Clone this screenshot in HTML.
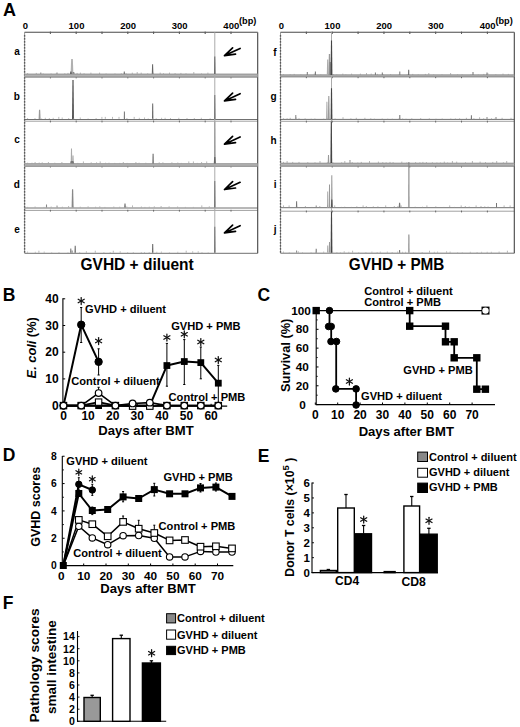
<!DOCTYPE html>
<html><head><meta charset="utf-8"><style>
html,body{margin:0;padding:0;background:#fff;}
svg{display:block;font-family:"Liberation Sans", sans-serif;}
</style></head><body>
<svg width="520" height="727" viewBox="0 0 520 727">
<rect width="520" height="727" fill="#fff"/>
<text x="3.00" y="15.90" font-size="18" font-weight="bold" text-anchor="start" fill="#000" >A</text>
<text x="25.50" y="28.90" font-size="9.5" font-weight="bold" text-anchor="middle" fill="#000" >0</text>
<text x="76.50" y="28.90" font-size="9.5" font-weight="bold" text-anchor="middle" fill="#000" >100</text>
<text x="128.10" y="28.90" font-size="9.5" font-weight="bold" text-anchor="middle" fill="#000" >200</text>
<text x="179.70" y="28.90" font-size="9.5" font-weight="bold" text-anchor="middle" fill="#000" >300</text>
<text x="231.30" y="28.90" font-size="9.5" font-weight="bold" text-anchor="middle" fill="#000" >400</text>
<text x="239.00" y="24.00" font-size="9.2" font-weight="bold" text-anchor="start" fill="#000" >(bp)</text>
<text x="281.40" y="28.90" font-size="9.5" font-weight="bold" text-anchor="middle" fill="#000" >0</text>
<text x="332.52" y="28.90" font-size="9.5" font-weight="bold" text-anchor="middle" fill="#000" >100</text>
<text x="384.24" y="28.90" font-size="9.5" font-weight="bold" text-anchor="middle" fill="#000" >200</text>
<text x="435.96" y="28.90" font-size="9.5" font-weight="bold" text-anchor="middle" fill="#000" >300</text>
<text x="487.68" y="28.90" font-size="9.5" font-weight="bold" text-anchor="middle" fill="#000" >400</text>
<text x="495.38" y="24.00" font-size="9.2" font-weight="bold" text-anchor="start" fill="#000" >(bp)</text>
<line x1="24.60" y1="32.30" x2="257.70" y2="32.30" stroke="#a0a0a0" stroke-width="1.0" />
<line x1="24.60" y1="75.50" x2="257.70" y2="75.50" stroke="#707070" stroke-width="1.0" />
<line x1="50.40" y1="31.70" x2="50.40" y2="33.50" stroke="#666" stroke-width="1.0" />
<line x1="76.20" y1="31.70" x2="76.20" y2="33.50" stroke="#666" stroke-width="1.0" />
<line x1="102.00" y1="31.70" x2="102.00" y2="33.50" stroke="#666" stroke-width="1.0" />
<line x1="127.80" y1="31.70" x2="127.80" y2="33.50" stroke="#666" stroke-width="1.0" />
<line x1="153.60" y1="31.70" x2="153.60" y2="33.50" stroke="#666" stroke-width="1.0" />
<line x1="179.40" y1="31.70" x2="179.40" y2="33.50" stroke="#666" stroke-width="1.0" />
<line x1="205.20" y1="31.70" x2="205.20" y2="33.50" stroke="#666" stroke-width="1.0" />
<line x1="231.00" y1="31.70" x2="231.00" y2="33.50" stroke="#666" stroke-width="1.0" />
<line x1="24.60" y1="77.20" x2="257.70" y2="77.20" stroke="#a0a0a0" stroke-width="1.0" />
<line x1="24.60" y1="119.50" x2="257.70" y2="119.50" stroke="#707070" stroke-width="1.0" />
<line x1="50.40" y1="76.60" x2="50.40" y2="78.40" stroke="#666" stroke-width="1.0" />
<line x1="76.20" y1="76.60" x2="76.20" y2="78.40" stroke="#666" stroke-width="1.0" />
<line x1="102.00" y1="76.60" x2="102.00" y2="78.40" stroke="#666" stroke-width="1.0" />
<line x1="127.80" y1="76.60" x2="127.80" y2="78.40" stroke="#666" stroke-width="1.0" />
<line x1="153.60" y1="76.60" x2="153.60" y2="78.40" stroke="#666" stroke-width="1.0" />
<line x1="179.40" y1="76.60" x2="179.40" y2="78.40" stroke="#666" stroke-width="1.0" />
<line x1="205.20" y1="76.60" x2="205.20" y2="78.40" stroke="#666" stroke-width="1.0" />
<line x1="231.00" y1="76.60" x2="231.00" y2="78.40" stroke="#666" stroke-width="1.0" />
<line x1="24.60" y1="121.20" x2="257.70" y2="121.20" stroke="#a0a0a0" stroke-width="1.0" />
<line x1="24.60" y1="164.50" x2="257.70" y2="164.50" stroke="#707070" stroke-width="1.0" />
<line x1="50.40" y1="120.60" x2="50.40" y2="122.40" stroke="#666" stroke-width="1.0" />
<line x1="76.20" y1="120.60" x2="76.20" y2="122.40" stroke="#666" stroke-width="1.0" />
<line x1="102.00" y1="120.60" x2="102.00" y2="122.40" stroke="#666" stroke-width="1.0" />
<line x1="127.80" y1="120.60" x2="127.80" y2="122.40" stroke="#666" stroke-width="1.0" />
<line x1="153.60" y1="120.60" x2="153.60" y2="122.40" stroke="#666" stroke-width="1.0" />
<line x1="179.40" y1="120.60" x2="179.40" y2="122.40" stroke="#666" stroke-width="1.0" />
<line x1="205.20" y1="120.60" x2="205.20" y2="122.40" stroke="#666" stroke-width="1.0" />
<line x1="231.00" y1="120.60" x2="231.00" y2="122.40" stroke="#666" stroke-width="1.0" />
<line x1="24.60" y1="166.30" x2="257.70" y2="166.30" stroke="#a0a0a0" stroke-width="1.0" />
<line x1="24.60" y1="208.00" x2="257.70" y2="208.00" stroke="#707070" stroke-width="1.0" />
<line x1="50.40" y1="165.70" x2="50.40" y2="167.50" stroke="#666" stroke-width="1.0" />
<line x1="76.20" y1="165.70" x2="76.20" y2="167.50" stroke="#666" stroke-width="1.0" />
<line x1="102.00" y1="165.70" x2="102.00" y2="167.50" stroke="#666" stroke-width="1.0" />
<line x1="127.80" y1="165.70" x2="127.80" y2="167.50" stroke="#666" stroke-width="1.0" />
<line x1="153.60" y1="165.70" x2="153.60" y2="167.50" stroke="#666" stroke-width="1.0" />
<line x1="179.40" y1="165.70" x2="179.40" y2="167.50" stroke="#666" stroke-width="1.0" />
<line x1="205.20" y1="165.70" x2="205.20" y2="167.50" stroke="#666" stroke-width="1.0" />
<line x1="231.00" y1="165.70" x2="231.00" y2="167.50" stroke="#666" stroke-width="1.0" />
<line x1="24.60" y1="210.40" x2="257.70" y2="210.40" stroke="#a0a0a0" stroke-width="1.0" />
<line x1="24.60" y1="253.30" x2="257.70" y2="253.30" stroke="#707070" stroke-width="1.0" />
<line x1="50.40" y1="209.80" x2="50.40" y2="211.60" stroke="#666" stroke-width="1.0" />
<line x1="76.20" y1="209.80" x2="76.20" y2="211.60" stroke="#666" stroke-width="1.0" />
<line x1="102.00" y1="209.80" x2="102.00" y2="211.60" stroke="#666" stroke-width="1.0" />
<line x1="127.80" y1="209.80" x2="127.80" y2="211.60" stroke="#666" stroke-width="1.0" />
<line x1="153.60" y1="209.80" x2="153.60" y2="211.60" stroke="#666" stroke-width="1.0" />
<line x1="179.40" y1="209.80" x2="179.40" y2="211.60" stroke="#666" stroke-width="1.0" />
<line x1="205.20" y1="209.80" x2="205.20" y2="211.60" stroke="#666" stroke-width="1.0" />
<line x1="231.00" y1="209.80" x2="231.00" y2="211.60" stroke="#666" stroke-width="1.0" />
<line x1="257.70" y1="32.30" x2="257.70" y2="253.30" stroke="#444" stroke-width="1.1" />
<line x1="24.60" y1="32.30" x2="24.60" y2="253.30" stroke="#999" stroke-width="1" />
<line x1="24.60" y1="35.30" x2="24.60" y2="253.30" stroke="#444" stroke-width="1.4" stroke-dasharray="1.3 1.7"/>
<line x1="280.50" y1="32.30" x2="514.30" y2="32.30" stroke="#a0a0a0" stroke-width="1.0" />
<line x1="280.50" y1="75.40" x2="514.30" y2="75.40" stroke="#707070" stroke-width="1.0" />
<line x1="306.36" y1="31.70" x2="306.36" y2="33.50" stroke="#666" stroke-width="1.0" />
<line x1="332.22" y1="31.70" x2="332.22" y2="33.50" stroke="#666" stroke-width="1.0" />
<line x1="358.08" y1="31.70" x2="358.08" y2="33.50" stroke="#666" stroke-width="1.0" />
<line x1="383.94" y1="31.70" x2="383.94" y2="33.50" stroke="#666" stroke-width="1.0" />
<line x1="409.80" y1="31.70" x2="409.80" y2="33.50" stroke="#666" stroke-width="1.0" />
<line x1="435.66" y1="31.70" x2="435.66" y2="33.50" stroke="#666" stroke-width="1.0" />
<line x1="461.52" y1="31.70" x2="461.52" y2="33.50" stroke="#666" stroke-width="1.0" />
<line x1="487.38" y1="31.70" x2="487.38" y2="33.50" stroke="#666" stroke-width="1.0" />
<line x1="280.50" y1="77.00" x2="514.30" y2="77.00" stroke="#a0a0a0" stroke-width="1.0" />
<line x1="280.50" y1="119.40" x2="514.30" y2="119.40" stroke="#707070" stroke-width="1.0" />
<line x1="306.36" y1="76.40" x2="306.36" y2="78.20" stroke="#666" stroke-width="1.0" />
<line x1="332.22" y1="76.40" x2="332.22" y2="78.20" stroke="#666" stroke-width="1.0" />
<line x1="358.08" y1="76.40" x2="358.08" y2="78.20" stroke="#666" stroke-width="1.0" />
<line x1="383.94" y1="76.40" x2="383.94" y2="78.20" stroke="#666" stroke-width="1.0" />
<line x1="409.80" y1="76.40" x2="409.80" y2="78.20" stroke="#666" stroke-width="1.0" />
<line x1="435.66" y1="76.40" x2="435.66" y2="78.20" stroke="#666" stroke-width="1.0" />
<line x1="461.52" y1="76.40" x2="461.52" y2="78.20" stroke="#666" stroke-width="1.0" />
<line x1="487.38" y1="76.40" x2="487.38" y2="78.20" stroke="#666" stroke-width="1.0" />
<line x1="280.50" y1="121.30" x2="514.30" y2="121.30" stroke="#a0a0a0" stroke-width="1.0" />
<line x1="280.50" y1="164.30" x2="514.30" y2="164.30" stroke="#707070" stroke-width="1.0" />
<line x1="306.36" y1="120.70" x2="306.36" y2="122.50" stroke="#666" stroke-width="1.0" />
<line x1="332.22" y1="120.70" x2="332.22" y2="122.50" stroke="#666" stroke-width="1.0" />
<line x1="358.08" y1="120.70" x2="358.08" y2="122.50" stroke="#666" stroke-width="1.0" />
<line x1="383.94" y1="120.70" x2="383.94" y2="122.50" stroke="#666" stroke-width="1.0" />
<line x1="409.80" y1="120.70" x2="409.80" y2="122.50" stroke="#666" stroke-width="1.0" />
<line x1="435.66" y1="120.70" x2="435.66" y2="122.50" stroke="#666" stroke-width="1.0" />
<line x1="461.52" y1="120.70" x2="461.52" y2="122.50" stroke="#666" stroke-width="1.0" />
<line x1="487.38" y1="120.70" x2="487.38" y2="122.50" stroke="#666" stroke-width="1.0" />
<line x1="280.50" y1="166.30" x2="514.30" y2="166.30" stroke="#a0a0a0" stroke-width="1.0" />
<line x1="280.50" y1="207.70" x2="514.30" y2="207.70" stroke="#707070" stroke-width="1.0" />
<line x1="306.36" y1="165.70" x2="306.36" y2="167.50" stroke="#666" stroke-width="1.0" />
<line x1="332.22" y1="165.70" x2="332.22" y2="167.50" stroke="#666" stroke-width="1.0" />
<line x1="358.08" y1="165.70" x2="358.08" y2="167.50" stroke="#666" stroke-width="1.0" />
<line x1="383.94" y1="165.70" x2="383.94" y2="167.50" stroke="#666" stroke-width="1.0" />
<line x1="409.80" y1="165.70" x2="409.80" y2="167.50" stroke="#666" stroke-width="1.0" />
<line x1="435.66" y1="165.70" x2="435.66" y2="167.50" stroke="#666" stroke-width="1.0" />
<line x1="461.52" y1="165.70" x2="461.52" y2="167.50" stroke="#666" stroke-width="1.0" />
<line x1="487.38" y1="165.70" x2="487.38" y2="167.50" stroke="#666" stroke-width="1.0" />
<line x1="280.50" y1="211.20" x2="514.30" y2="211.20" stroke="#a0a0a0" stroke-width="1.0" />
<line x1="280.50" y1="253.20" x2="514.30" y2="253.20" stroke="#707070" stroke-width="1.0" />
<line x1="306.36" y1="210.60" x2="306.36" y2="212.40" stroke="#666" stroke-width="1.0" />
<line x1="332.22" y1="210.60" x2="332.22" y2="212.40" stroke="#666" stroke-width="1.0" />
<line x1="358.08" y1="210.60" x2="358.08" y2="212.40" stroke="#666" stroke-width="1.0" />
<line x1="383.94" y1="210.60" x2="383.94" y2="212.40" stroke="#666" stroke-width="1.0" />
<line x1="409.80" y1="210.60" x2="409.80" y2="212.40" stroke="#666" stroke-width="1.0" />
<line x1="435.66" y1="210.60" x2="435.66" y2="212.40" stroke="#666" stroke-width="1.0" />
<line x1="461.52" y1="210.60" x2="461.52" y2="212.40" stroke="#666" stroke-width="1.0" />
<line x1="487.38" y1="210.60" x2="487.38" y2="212.40" stroke="#666" stroke-width="1.0" />
<line x1="514.30" y1="32.30" x2="514.30" y2="253.20" stroke="#444" stroke-width="1.1" />
<line x1="280.50" y1="32.30" x2="280.50" y2="253.20" stroke="#999" stroke-width="1" />
<line x1="280.50" y1="35.30" x2="280.50" y2="253.20" stroke="#444" stroke-width="1.4" stroke-dasharray="1.3 1.7"/>
<line x1="24.60" y1="32.30" x2="257.70" y2="32.30" stroke="#777" stroke-width="1.2" />
<line x1="280.50" y1="32.30" x2="514.30" y2="32.30" stroke="#777" stroke-width="1.2" />
<line x1="50.40" y1="31.80" x2="50.40" y2="34.00" stroke="#555" stroke-width="0.9" />
<line x1="76.20" y1="31.80" x2="76.20" y2="34.00" stroke="#555" stroke-width="0.9" />
<line x1="102.00" y1="31.80" x2="102.00" y2="34.00" stroke="#555" stroke-width="0.9" />
<line x1="127.80" y1="31.80" x2="127.80" y2="34.00" stroke="#555" stroke-width="0.9" />
<line x1="153.60" y1="31.80" x2="153.60" y2="34.00" stroke="#555" stroke-width="0.9" />
<line x1="179.40" y1="31.80" x2="179.40" y2="34.00" stroke="#555" stroke-width="0.9" />
<line x1="205.20" y1="31.80" x2="205.20" y2="34.00" stroke="#555" stroke-width="0.9" />
<line x1="231.00" y1="31.80" x2="231.00" y2="34.00" stroke="#555" stroke-width="0.9" />
<line x1="306.36" y1="31.80" x2="306.36" y2="34.00" stroke="#555" stroke-width="0.9" />
<line x1="332.22" y1="31.80" x2="332.22" y2="34.00" stroke="#555" stroke-width="0.9" />
<line x1="358.08" y1="31.80" x2="358.08" y2="34.00" stroke="#555" stroke-width="0.9" />
<line x1="383.94" y1="31.80" x2="383.94" y2="34.00" stroke="#555" stroke-width="0.9" />
<line x1="409.80" y1="31.80" x2="409.80" y2="34.00" stroke="#555" stroke-width="0.9" />
<line x1="435.66" y1="31.80" x2="435.66" y2="34.00" stroke="#555" stroke-width="0.9" />
<line x1="461.52" y1="31.80" x2="461.52" y2="34.00" stroke="#555" stroke-width="0.9" />
<line x1="487.38" y1="31.80" x2="487.38" y2="34.00" stroke="#555" stroke-width="0.9" />
<rect x="24.60" y="73.80" width="233.10" height="3.40" fill="#b3b3b3" stroke="none" stroke-width="1"/>
<line x1="24.60" y1="74.10" x2="257.70" y2="74.10" stroke="#888" stroke-width="0.7" />
<line x1="24.60" y1="76.90" x2="257.70" y2="76.90" stroke="#888" stroke-width="0.7" />
<rect x="24.60" y="163.40" width="233.10" height="3.10" fill="#b3b3b3" stroke="none" stroke-width="1"/>
<line x1="24.60" y1="163.70" x2="257.70" y2="163.70" stroke="#888" stroke-width="0.7" />
<line x1="24.60" y1="166.20" x2="257.70" y2="166.20" stroke="#888" stroke-width="0.7" />
<rect x="280.50" y="74.60" width="233.80" height="2.20" fill="#b3b3b3" stroke="none" stroke-width="1"/>
<line x1="280.50" y1="74.90" x2="514.30" y2="74.90" stroke="#888" stroke-width="0.7" />
<line x1="280.50" y1="76.50" x2="514.30" y2="76.50" stroke="#888" stroke-width="0.7" />
<rect x="280.50" y="162.90" width="233.80" height="3.40" fill="#b3b3b3" stroke="none" stroke-width="1"/>
<line x1="280.50" y1="163.20" x2="514.30" y2="163.20" stroke="#888" stroke-width="0.7" />
<line x1="280.50" y1="166.00" x2="514.30" y2="166.00" stroke="#888" stroke-width="0.7" />
<line x1="214.80" y1="32.30" x2="214.80" y2="253.30" stroke="#aaa" stroke-width="1" />
<line x1="331.50" y1="32.30" x2="331.50" y2="164.30" stroke="#aaa" stroke-width="1" />
<line x1="331.50" y1="207.70" x2="331.50" y2="253.20" stroke="#aaa" stroke-width="1" />
<polygon points="70.60,74.00 71.16,58.90 72.84,58.90 73.40,74.00" fill="#b0b0b0"/>
<polygon points="69.90,74.00 70.30,71.40 71.50,71.40 71.90,74.00" fill="#666"/>
<polygon points="72.30,74.00 72.78,72.00 74.22,72.00 74.70,74.00" fill="#888"/>
<polygon points="123.60,74.00 123.80,71.50 124.80,71.50 125.00,74.00" fill="#777"/>
<polygon points="151.80,74.00 152.10,64.30 153.10,64.30 153.40,74.00" fill="#666"/>
<polygon points="214.00,74.00 214.30,56.50 215.30,56.50 215.60,74.00" fill="#6a6a6a"/>
<polygon points="40.30,74.00 40.30,72.50 41.30,72.50 41.30,74.00" fill="#888"/>
<polygon points="56.50,74.00 56.50,72.50 57.50,72.50 57.50,74.00" fill="#888"/>
<polygon points="38.60,119.00 39.00,109.80 40.20,109.80 40.60,119.00" fill="#999"/>
<polygon points="72.00,119.00 72.40,80.00 73.60,80.00 74.00,119.00" fill="#555"/>
<polygon points="123.80,119.00 123.90,111.60 124.90,111.60 125.00,119.00" fill="#777"/>
<polygon points="152.00,119.00 152.20,103.50 153.20,103.50 153.40,119.00" fill="#666"/>
<polygon points="214.00,119.00 214.30,95.00 215.30,95.00 215.60,119.00" fill="#777"/>
<polygon points="70.70,163.40 71.00,148.50 72.00,148.50 72.30,163.40" fill="#aaa"/>
<polygon points="72.40,163.40 72.50,155.50 73.50,155.50 73.60,163.40" fill="#999"/>
<polygon points="70.20,163.40 71.00,161.00 73.40,161.00 74.20,163.40" fill="#777"/>
<polygon points="152.40,163.40 152.60,153.80 153.60,153.80 153.80,163.40" fill="#666"/>
<polygon points="214.00,163.40 214.30,121.50 215.30,121.50 215.60,163.40" fill="#999"/>
<polygon points="213.80,163.40 214.20,157.00 215.40,157.00 215.80,163.40" fill="#666"/>
<polygon points="45.90,207.60 46.00,204.50 47.00,204.50 47.10,207.60" fill="#888"/>
<polygon points="56.50,207.60 56.50,205.50 57.50,205.50 57.50,207.60" fill="#999"/>
<polygon points="71.60,207.60 72.00,189.20 73.20,189.20 73.60,207.60" fill="#888"/>
<polygon points="124.10,207.60 124.46,203.50 125.54,203.50 125.90,207.60" fill="#777"/>
<polygon points="214.00,207.60 214.30,181.00 215.30,181.00 215.60,207.60" fill="#777"/>
<polygon points="70.10,252.80 70.30,248.50 71.30,248.50 71.50,252.80" fill="#777"/>
<polygon points="71.70,252.80 71.70,250.50 72.70,250.50 72.70,252.80" fill="#888"/>
<polygon points="74.50,252.80 74.70,245.80 75.70,245.80 75.90,252.80" fill="#666"/>
<polygon points="152.00,252.80 152.20,244.00 153.20,244.00 153.40,252.80" fill="#666"/>
<polygon points="214.00,252.80 214.30,226.80 215.30,226.80 215.60,252.80" fill="#777"/>
<polygon points="326.80,75.00 327.16,59.60 328.24,59.60 328.60,75.00" fill="#aaa"/>
<polygon points="328.40,75.00 328.84,54.10 330.16,54.10 330.60,75.00" fill="#999"/>
<polygon points="329.60,75.00 329.70,62.00 330.70,62.00 330.80,75.00" fill="#777"/>
<polygon points="330.60,75.00 330.96,40.50 332.04,40.50 332.40,75.00" fill="#444"/>
<polygon points="306.80,75.00 306.80,72.00 307.80,72.00 307.80,75.00" fill="#777"/>
<polygon points="314.80,75.00 314.90,71.50 315.90,71.50 316.00,75.00" fill="#777"/>
<polygon points="374.90,75.00 374.90,72.50 375.90,72.50 375.90,75.00" fill="#777"/>
<polygon points="381.80,75.00 381.80,72.50 382.80,72.50 382.80,75.00" fill="#777"/>
<polygon points="399.30,75.00 399.30,71.50 400.30,71.50 400.30,75.00" fill="#777"/>
<polygon points="408.10,75.00 408.20,69.70 409.20,69.70 409.30,75.00" fill="#666"/>
<polygon points="472.50,75.00 472.50,72.00 473.50,72.00 473.50,75.00" fill="#777"/>
<polygon points="486.50,75.00 486.50,72.50 487.50,72.50 487.50,75.00" fill="#777"/>
<polygon points="295.20,119.30 295.30,115.00 296.30,115.00 296.40,119.30" fill="#888"/>
<polygon points="326.10,119.30 326.40,101.70 327.40,101.70 327.70,119.30" fill="#aaa"/>
<polygon points="327.90,119.30 328.26,95.90 329.34,95.90 329.70,119.30" fill="#999"/>
<polygon points="330.60,119.30 330.96,88.30 332.04,88.30 332.40,119.30" fill="#444"/>
<polygon points="399.20,119.30 399.30,114.90 400.30,114.90 400.40,119.30" fill="#777"/>
<polygon points="470.80,119.30 470.90,115.30 471.90,115.30 472.00,119.30" fill="#777"/>
<polygon points="486.50,119.30 486.50,117.00 487.50,117.00 487.50,119.30" fill="#888"/>
<polygon points="495.50,119.30 495.50,117.00 496.50,117.00 496.50,119.30" fill="#888"/>
<polygon points="327.70,163.00 328.00,155.00 329.00,155.00 329.30,163.00" fill="#999"/>
<polygon points="330.40,163.00 330.76,121.50 331.84,121.50 332.20,163.00" fill="#444"/>
<polygon points="349.60,163.00 349.50,160.00 350.50,160.00 350.40,163.00" fill="#888"/>
<polygon points="295.90,207.50 296.10,201.20 297.10,201.20 297.30,207.50" fill="#777"/>
<polygon points="315.70,207.50 315.70,205.50 316.70,205.50 316.70,207.50" fill="#888"/>
<polygon points="327.00,207.50 327.20,191.60 328.20,191.60 328.40,207.50" fill="#aaa"/>
<polygon points="328.80,207.50 329.00,184.40 330.00,184.40 330.20,207.50" fill="#999"/>
<polygon points="331.00,207.50 331.30,175.30 332.30,175.30 332.60,207.50" fill="#999"/>
<polygon points="330.90,207.50 331.26,199.50 332.34,199.50 332.70,207.50" fill="#555"/>
<polygon points="398.70,207.50 399.06,202.70 400.14,202.70 400.50,207.50" fill="#777"/>
<polygon points="408.30,207.50 408.40,162.00 409.40,162.00 409.50,207.50" fill="#808080"/>
<polygon points="496.00,207.50 496.00,203.00 497.00,203.00 497.00,207.50" fill="#777"/>
<polygon points="330.60,252.80 330.96,211.50 332.04,211.50 332.40,252.80" fill="#444"/>
<polygon points="327.00,252.80 327.20,245.60 328.20,245.60 328.40,252.80" fill="#aaa"/>
<polygon points="328.70,252.80 329.00,242.00 330.00,242.00 330.30,252.80" fill="#999"/>
<polygon points="315.60,252.80 315.70,248.80 316.70,248.80 316.80,252.80" fill="#777"/>
<polygon points="296.10,252.80 296.10,250.50 297.10,250.50 297.10,252.80" fill="#888"/>
<polygon points="408.30,252.80 408.40,234.60 409.40,234.60 409.50,252.80" fill="#808080"/>
<polygon points="399.00,252.80 399.10,250.00 400.10,250.00 400.20,252.80" fill="#777"/>
<path d="M27.6,74.0v-0.9 M36.3,74.0v-1.1 M43.2,74.0v-0.5 M51.1,74.0v-0.5 M56.3,74.0v-0.5 M64.8,74.0v-0.7 M68.0,74.0v-1.1 M73.5,74.0v-0.7 M77.1,74.0v-1.1 M80.4,74.0v-1.4 M84.1,74.0v-0.7 M90.9,74.0v-1.4 M99.6,74.0v-1.4 M106.1,74.0v-0.5 M115.0,74.0v-0.5 M121.3,74.0v-0.7 M126.1,74.0v-0.7 M132.3,74.0v-1.4 M137.2,74.0v-2.0 M141.2,74.0v-1.4 M147.7,74.0v-0.7 M152.9,74.0v-1.4 M160.2,74.0v-1.4 M163.5,74.0v-0.7 M169.5,74.0v-1.4 M175.1,74.0v-0.9 M180.9,74.0v-1.1 M186.0,74.0v-0.7 M193.8,74.0v-2.0 M201.5,74.0v-0.5 M207.9,74.0v-1.4" stroke="#999" stroke-width="0.7" fill="none"/>
<path d="M27.6,118.9v-0.9 M35.0,118.9v-0.9 M41.6,118.9v-0.5 M45.3,118.9v-1.1 M49.3,118.9v-0.9 M53.2,118.9v-1.1 M58.8,118.9v-2.0 M62.2,118.9v-1.4 M68.7,118.9v-0.9 M73.7,118.9v-0.9 M80.3,118.9v-1.4 M88.1,118.9v-0.5 M96.1,118.9v-0.9 M101.9,118.9v-2.0 M105.3,118.9v-2.0 M112.5,118.9v-2.0 M119.0,118.9v-2.0 M126.9,118.9v-0.9 M134.2,118.9v-2.0 M139.3,118.9v-1.1 M144.5,118.9v-1.4 M148.2,118.9v-0.5 M152.5,118.9v-0.9 M156.2,118.9v-0.7 M161.6,118.9v-1.1 M165.1,118.9v-1.1 M170.5,118.9v-0.9 M178.8,118.9v-1.1 M187.0,118.9v-0.9 M194.3,118.9v-0.9 M201.3,118.9v-1.1 M210.1,118.9v-0.7" stroke="#999" stroke-width="0.7" fill="none"/>
<path d="M27.6,163.4v-0.7 M32.0,163.4v-0.7 M35.1,163.4v-1.4 M39.2,163.4v-0.9 M42.2,163.4v-1.1 M48.4,163.4v-1.4 M54.8,163.4v-0.7 M61.9,163.4v-1.4 M70.6,163.4v-2.0 M77.7,163.4v-0.5 M83.4,163.4v-2.0 M91.2,163.4v-1.1 M96.6,163.4v-1.1 M100.2,163.4v-2.0 M105.6,163.4v-0.7 M109.0,163.4v-0.7 M114.7,163.4v-0.5 M119.7,163.4v-0.5 M123.3,163.4v-1.4 M127.2,163.4v-0.5 M135.9,163.4v-1.4 M139.1,163.4v-0.7 M145.8,163.4v-0.7 M152.6,163.4v-0.9 M159.2,163.4v-1.1 M162.9,163.4v-1.1 M171.9,163.4v-1.1 M177.8,163.4v-0.9 M181.3,163.4v-0.5 M188.8,163.4v-2.0 M193.4,163.4v-2.0 M197.3,163.4v-0.5 M201.6,163.4v-1.4 M206.7,163.4v-2.0" stroke="#999" stroke-width="0.7" fill="none"/>
<path d="M27.6,207.4v-0.5 M35.1,207.4v-0.9 M44.0,207.4v-0.5 M51.2,207.4v-0.9 M57.3,207.4v-0.7 M62.4,207.4v-0.7 M68.6,207.4v-1.4 M73.6,207.4v-0.7 M80.3,207.4v-0.7 M88.1,207.4v-1.1 M95.6,207.4v-0.7 M99.8,207.4v-1.1 M104.9,207.4v-0.5 M113.8,207.4v-0.9 M119.7,207.4v-0.7 M126.8,207.4v-0.9 M132.5,207.4v-2.0 M141.4,207.4v-0.9 M144.9,207.4v-0.5 M149.3,207.4v-0.7 M154.3,207.4v-1.1 M161.1,207.4v-1.4 M169.1,207.4v-1.1 M177.6,207.4v-0.9 M185.4,207.4v-0.5 M193.4,207.4v-0.5 M201.8,207.4v-2.0 M209.3,207.4v-1.1" stroke="#999" stroke-width="0.7" fill="none"/>
<path d="M27.6,252.7v-1.1 M35.3,252.7v-0.9 M38.9,252.7v-2.0 M44.2,252.7v-1.1 M51.7,252.7v-0.5 M59.0,252.7v-0.7 M68.0,252.7v-0.5 M71.9,252.7v-1.1 M79.7,252.7v-0.7 M86.4,252.7v-1.4 M95.3,252.7v-2.0 M103.9,252.7v-0.7 M110.2,252.7v-0.7 M113.3,252.7v-2.0 M120.2,252.7v-1.4 M127.7,252.7v-0.7 M133.3,252.7v-0.7 M141.3,252.7v-0.7 M144.5,252.7v-0.7 M149.2,252.7v-0.7 M156.8,252.7v-0.9 M161.4,252.7v-1.1 M169.4,252.7v-0.5 M177.8,252.7v-0.9 M186.2,252.7v-2.0 M192.7,252.7v-1.4 M198.2,252.7v-1.4 M202.0,252.7v-0.7 M208.2,252.7v-0.5" stroke="#999" stroke-width="0.7" fill="none"/>
<path d="M283.5,75.0v-0.7 M290.2,75.0v-0.7 M294.2,75.0v-1.1 M300.9,75.0v-0.5 M307.2,75.0v-0.9 M314.3,75.0v-1.4 M320.7,75.0v-0.5 M329.0,75.0v-0.5 M333.5,75.0v-0.9 M336.7,75.0v-0.5 M342.8,75.0v-1.4 M345.9,75.0v-0.5 M351.6,75.0v-1.4 M360.4,75.0v-1.4 M366.5,75.0v-2.0 M371.2,75.0v-1.4 M377.4,75.0v-1.1 M383.4,75.0v-0.7 M390.6,75.0v-0.9 M399.1,75.0v-0.7 M407.2,75.0v-0.7 M412.7,75.0v-1.1 M418.3,75.0v-0.5 M425.4,75.0v-1.1 M428.8,75.0v-2.0 M433.6,75.0v-0.5 M442.0,75.0v-0.7 M450.6,75.0v-2.0 M457.6,75.0v-0.7 M462.1,75.0v-0.7 M470.9,75.0v-0.7 M478.4,75.0v-0.5 M483.8,75.0v-1.1 M487.8,75.0v-2.0 M495.8,75.0v-0.7 M503.0,75.0v-1.4 M508.4,75.0v-1.1" stroke="#999" stroke-width="0.7" fill="none"/>
<path d="M283.5,119.2v-0.9 M287.1,119.2v-0.9 M290.2,119.2v-1.4 M295.9,119.2v-2.0 M299.0,119.2v-0.9 M305.1,119.2v-0.9 M311.2,119.2v-0.5 M314.9,119.2v-0.7 M323.7,119.2v-0.5 M327.2,119.2v-0.9 M330.5,119.2v-0.7 M335.1,119.2v-0.7 M343.0,119.2v-2.0 M350.9,119.2v-0.9 M356.3,119.2v-1.4 M364.9,119.2v-1.4 M370.8,119.2v-0.9 M374.4,119.2v-0.5 M382.2,119.2v-0.7 M387.7,119.2v-0.5 M392.3,119.2v-0.5 M399.1,119.2v-0.9 M402.6,119.2v-0.7 M406.0,119.2v-0.5 M411.8,119.2v-0.9 M420.7,119.2v-1.1 M429.3,119.2v-0.9 M436.0,119.2v-0.5 M442.2,119.2v-0.7 M450.8,119.2v-0.7 M455.4,119.2v-0.7 M459.6,119.2v-0.9 M466.4,119.2v-1.4 M473.9,119.2v-0.9 M479.6,119.2v-2.0 M483.7,119.2v-0.9 M491.5,119.2v-0.9 M494.7,119.2v-0.5 M502.1,119.2v-1.4 M511.0,119.2v-1.4" stroke="#999" stroke-width="0.7" fill="none"/>
<path d="M283.5,163.0v-1.1 M287.1,163.0v-2.0 M292.7,163.0v-1.1 M299.0,163.0v-1.1 M307.8,163.0v-0.9 M315.0,163.0v-0.7 M320.0,163.0v-2.0 M327.4,163.0v-0.7 M332.8,163.0v-0.9 M341.7,163.0v-0.7 M344.8,163.0v-2.0 M352.2,163.0v-0.9 M357.8,163.0v-0.5 M361.3,163.0v-1.1 M369.5,163.0v-2.0 M378.4,163.0v-1.4 M382.8,163.0v-0.9 M386.1,163.0v-0.7 M390.0,163.0v-1.1 M393.1,163.0v-0.9 M401.8,163.0v-1.4 M406.8,163.0v-0.5 M415.6,163.0v-0.9 M419.9,163.0v-0.7 M422.9,163.0v-1.1 M426.4,163.0v-0.9 M432.4,163.0v-0.7 M436.9,163.0v-0.5 M440.4,163.0v-0.5 M444.3,163.0v-1.4 M447.6,163.0v-0.5 M452.4,163.0v-2.0 M456.7,163.0v-1.4 M465.5,163.0v-0.7 M472.4,163.0v-2.0 M480.1,163.0v-1.4 M485.5,163.0v-0.9 M492.8,163.0v-1.1 M496.7,163.0v-2.0 M503.4,163.0v-0.7 M506.7,163.0v-2.0" stroke="#999" stroke-width="0.7" fill="none"/>
<path d="M283.5,207.4v-2.0 M289.1,207.4v-2.0 M296.9,207.4v-0.7 M305.4,207.4v-1.4 M311.8,207.4v-0.5 M319.8,207.4v-1.4 M327.6,207.4v-2.0 M334.7,207.4v-2.0 M341.5,207.4v-0.5 M344.7,207.4v-0.7 M351.5,207.4v-0.5 M356.8,207.4v-1.1 M363.1,207.4v-2.0 M366.3,207.4v-1.4 M373.3,207.4v-1.1 M377.9,207.4v-1.1 M385.7,207.4v-2.0 M394.3,207.4v-1.4 M397.9,207.4v-1.4 M401.2,207.4v-2.0 M407.1,207.4v-0.5 M415.2,207.4v-0.7 M422.5,207.4v-0.7 M426.9,207.4v-2.0 M435.8,207.4v-1.1 M443.9,207.4v-0.5 M449.7,207.4v-2.0 M454.5,207.4v-0.5 M461.2,207.4v-2.0 M465.3,207.4v-1.4 M469.2,207.4v-0.9 M476.1,207.4v-2.0 M481.0,207.4v-1.4 M484.8,207.4v-1.1 M488.1,207.4v-0.9 M497.0,207.4v-0.5 M504.1,207.4v-2.0 M510.1,207.4v-2.0" stroke="#999" stroke-width="0.7" fill="none"/>
<path d="M283.5,252.7v-1.1 M289.3,252.7v-0.5 M298.3,252.7v-1.4 M302.5,252.7v-0.5 M311.1,252.7v-0.5 M315.8,252.7v-0.5 M323.7,252.7v-1.1 M332.7,252.7v-1.1 M336.9,252.7v-0.7 M340.4,252.7v-0.5 M344.2,252.7v-1.4 M348.8,252.7v-0.9 M352.6,252.7v-2.0 M358.7,252.7v-0.5 M365.9,252.7v-0.7 M371.9,252.7v-1.1 M377.2,252.7v-0.7 M380.3,252.7v-1.1 M387.3,252.7v-1.1 M392.2,252.7v-0.7 M397.7,252.7v-1.1 M402.6,252.7v-0.9 M405.6,252.7v-0.9 M413.6,252.7v-0.5 M422.2,252.7v-0.7 M429.5,252.7v-2.0 M434.3,252.7v-0.9 M437.6,252.7v-1.1 M446.6,252.7v-1.4 M450.1,252.7v-1.1 M457.6,252.7v-0.5 M462.3,252.7v-0.5 M470.3,252.7v-0.9 M477.1,252.7v-0.7 M481.6,252.7v-0.9 M487.2,252.7v-0.9 M491.4,252.7v-0.9 M499.1,252.7v-1.1 M507.4,252.7v-2.0" stroke="#999" stroke-width="0.7" fill="none"/>
<text x="19.90" y="54.80" font-size="10" font-weight="bold" text-anchor="end" fill="#000" >a</text>
<text x="19.90" y="100.20" font-size="10" font-weight="bold" text-anchor="end" fill="#000" >b</text>
<text x="19.90" y="143.00" font-size="10" font-weight="bold" text-anchor="end" fill="#000" >c</text>
<text x="19.90" y="188.40" font-size="10" font-weight="bold" text-anchor="end" fill="#000" >d</text>
<text x="19.90" y="232.80" font-size="10" font-weight="bold" text-anchor="end" fill="#000" >e</text>
<text x="276.60" y="56.40" font-size="10" font-weight="bold" text-anchor="end" fill="#000" >f</text>
<text x="276.60" y="100.20" font-size="10" font-weight="bold" text-anchor="end" fill="#000" >g</text>
<text x="276.60" y="143.80" font-size="10" font-weight="bold" text-anchor="end" fill="#000" >h</text>
<text x="276.60" y="188.40" font-size="10" font-weight="bold" text-anchor="end" fill="#000" >i</text>
<text x="276.60" y="233.00" font-size="10" font-weight="bold" text-anchor="end" fill="#000" >j</text>
<path d="M240.10,48.40 L224.50,55.60 M232.60,47.80 L224.50,55.60 L235.50,54.10" fill="none" stroke="#000" stroke-width="1.7" stroke-linecap="round" stroke-linejoin="round"/>
<path d="M240.10,93.70 L224.50,100.90 M232.60,93.10 L224.50,100.90 L235.50,99.40" fill="none" stroke="#000" stroke-width="1.7" stroke-linecap="round" stroke-linejoin="round"/>
<path d="M240.10,137.00 L224.50,144.20 M232.60,136.40 L224.50,144.20 L235.50,142.70" fill="none" stroke="#000" stroke-width="1.7" stroke-linecap="round" stroke-linejoin="round"/>
<path d="M240.10,182.30 L224.50,189.50 M232.60,181.70 L224.50,189.50 L235.50,188.00" fill="none" stroke="#000" stroke-width="1.7" stroke-linecap="round" stroke-linejoin="round"/>
<path d="M240.10,225.70 L224.50,232.90 M232.60,225.10 L224.50,232.90 L235.50,231.40" fill="none" stroke="#000" stroke-width="1.7" stroke-linecap="round" stroke-linejoin="round"/>
<text x="0.00" y="0.00" font-size="15.5" font-weight="bold" text-anchor="middle" fill="#000" transform="translate(137.1,270.1) scale(1,1.07)">GVHD + diluent</text>
<text x="0.00" y="0.00" font-size="15.3" font-weight="bold" text-anchor="middle" fill="#000" transform="translate(396.6,270.1) scale(1,1.07)">GVHD + PMB</text>
<text x="2.70" y="301.40" font-size="17.5" font-weight="bold" text-anchor="start" fill="#000" >B</text>
<line x1="62.90" y1="298.30" x2="62.90" y2="406.30" stroke="#000" stroke-width="1.1" />
<line x1="62.40" y1="406.10" x2="227.20" y2="406.10" stroke="#000" stroke-width="1.1" />
<text x="58.60" y="409.80" font-size="12" font-weight="bold" text-anchor="end" fill="#000" >0</text>
<line x1="62.90" y1="405.60" x2="65.20" y2="405.60" stroke="#000" stroke-width="1" />
<text x="58.60" y="383.10" font-size="12" font-weight="bold" text-anchor="end" fill="#000" >10</text>
<line x1="62.90" y1="378.90" x2="65.20" y2="378.90" stroke="#000" stroke-width="1" />
<text x="58.60" y="356.40" font-size="12" font-weight="bold" text-anchor="end" fill="#000" >20</text>
<line x1="62.90" y1="352.20" x2="65.20" y2="352.20" stroke="#000" stroke-width="1" />
<text x="58.60" y="329.70" font-size="12" font-weight="bold" text-anchor="end" fill="#000" >30</text>
<line x1="62.90" y1="325.50" x2="65.20" y2="325.50" stroke="#000" stroke-width="1" />
<text x="58.60" y="303.00" font-size="12" font-weight="bold" text-anchor="end" fill="#000" >40</text>
<line x1="62.90" y1="298.80" x2="65.20" y2="298.80" stroke="#000" stroke-width="1" />
<text x="63.50" y="420.00" font-size="12" font-weight="bold" text-anchor="middle" fill="#000" >0</text>
<line x1="63.50" y1="406.10" x2="63.50" y2="403.80" stroke="#000" stroke-width="1" />
<text x="88.10" y="420.00" font-size="12" font-weight="bold" text-anchor="middle" fill="#000" >10</text>
<line x1="88.10" y1="406.10" x2="88.10" y2="403.80" stroke="#000" stroke-width="1" />
<text x="112.70" y="420.00" font-size="12" font-weight="bold" text-anchor="middle" fill="#000" >20</text>
<line x1="112.70" y1="406.10" x2="112.70" y2="403.80" stroke="#000" stroke-width="1" />
<text x="137.30" y="420.00" font-size="12" font-weight="bold" text-anchor="middle" fill="#000" >30</text>
<line x1="137.30" y1="406.10" x2="137.30" y2="403.80" stroke="#000" stroke-width="1" />
<text x="161.90" y="420.00" font-size="12" font-weight="bold" text-anchor="middle" fill="#000" >40</text>
<line x1="161.90" y1="406.10" x2="161.90" y2="403.80" stroke="#000" stroke-width="1" />
<text x="186.50" y="420.00" font-size="12" font-weight="bold" text-anchor="middle" fill="#000" >50</text>
<line x1="186.50" y1="406.10" x2="186.50" y2="403.80" stroke="#000" stroke-width="1" />
<text x="211.10" y="420.00" font-size="12" font-weight="bold" text-anchor="middle" fill="#000" >60</text>
<line x1="211.10" y1="406.10" x2="211.10" y2="403.80" stroke="#000" stroke-width="1" />
<text x="146.00" y="435.30" font-size="13.1" font-weight="bold" text-anchor="middle" fill="#000" >Days after BMT</text>
<text transform="translate(36.0,347.8) rotate(-90)" font-size="12.8" font-weight="bold" text-anchor="middle"><tspan font-style="italic">E. coli</tspan> (%)</text>
<polyline points="63.50,405.60 81.20,405.60 98.60,402.13 115.40,405.60 132.60,406.13 149.80,406.13 166.90,405.60 184.30,405.60 200.80,405.60 218.30,405.60" fill="none" stroke="#000" stroke-width="1.6" stroke-linejoin="round" />
<polyline points="63.50,405.60 81.20,405.60 98.60,393.05 115.40,405.60 132.60,403.46 149.80,402.66 166.90,405.60 184.30,405.60 200.80,405.60 218.30,405.60" fill="none" stroke="#000" stroke-width="1.6" stroke-linejoin="round" />
<polyline points="63.50,405.60 81.20,405.60 98.60,405.60 115.40,405.60 132.60,405.60 149.80,405.60 166.90,365.55 184.30,361.55 200.80,362.61 218.30,383.17" fill="none" stroke="#000" stroke-width="2.0" stroke-linejoin="round" />
<polyline points="63.50,405.60 81.20,324.70 98.60,361.81" fill="none" stroke="#000" stroke-width="2.0" stroke-linejoin="round" />
<line x1="81.20" y1="307.50" x2="81.20" y2="342.50" stroke="#000" stroke-width="1" />
<line x1="80.10" y1="307.50" x2="82.30" y2="307.50" stroke="#000" stroke-width="1" />
<line x1="80.10" y1="342.50" x2="82.30" y2="342.50" stroke="#000" stroke-width="1" />
<line x1="98.60" y1="348.80" x2="98.60" y2="375.00" stroke="#000" stroke-width="1" />
<line x1="97.50" y1="348.80" x2="99.70" y2="348.80" stroke="#000" stroke-width="1" />
<line x1="97.50" y1="375.00" x2="99.70" y2="375.00" stroke="#000" stroke-width="1" />
<line x1="166.90" y1="343.40" x2="166.90" y2="386.20" stroke="#000" stroke-width="1" />
<line x1="165.80" y1="343.40" x2="168.00" y2="343.40" stroke="#000" stroke-width="1" />
<line x1="165.80" y1="386.20" x2="168.00" y2="386.20" stroke="#000" stroke-width="1" />
<line x1="184.30" y1="339.60" x2="184.30" y2="384.50" stroke="#000" stroke-width="1" />
<line x1="183.20" y1="339.60" x2="185.40" y2="339.60" stroke="#000" stroke-width="1" />
<line x1="183.20" y1="384.50" x2="185.40" y2="384.50" stroke="#000" stroke-width="1" />
<line x1="200.80" y1="347.00" x2="200.80" y2="378.80" stroke="#000" stroke-width="1" />
<line x1="199.70" y1="347.00" x2="201.90" y2="347.00" stroke="#000" stroke-width="1" />
<line x1="199.70" y1="378.80" x2="201.90" y2="378.80" stroke="#000" stroke-width="1" />
<line x1="218.30" y1="365.40" x2="218.30" y2="405.00" stroke="#000" stroke-width="1" />
<line x1="217.20" y1="365.40" x2="219.40" y2="365.40" stroke="#000" stroke-width="1" />
<line x1="217.20" y1="405.00" x2="219.40" y2="405.00" stroke="#000" stroke-width="1" />
<line x1="98.60" y1="387.30" x2="98.60" y2="393.00" stroke="#000" stroke-width="1" />
<line x1="97.50" y1="387.30" x2="99.70" y2="387.30" stroke="#000" stroke-width="1" />
<line x1="97.50" y1="393.00" x2="99.70" y2="393.00" stroke="#000" stroke-width="1" />
<rect x="60.10" y="402.20" width="6.80" height="6.80" fill="#000" stroke="none" stroke-width="1"/>
<rect x="77.80" y="402.20" width="6.80" height="6.80" fill="#000" stroke="none" stroke-width="1"/>
<rect x="95.20" y="402.20" width="6.80" height="6.80" fill="#000" stroke="none" stroke-width="1"/>
<rect x="112.00" y="402.20" width="6.80" height="6.80" fill="#000" stroke="none" stroke-width="1"/>
<rect x="129.20" y="402.20" width="6.80" height="6.80" fill="#000" stroke="none" stroke-width="1"/>
<rect x="146.40" y="402.20" width="6.80" height="6.80" fill="#000" stroke="none" stroke-width="1"/>
<rect x="163.50" y="362.15" width="6.80" height="6.80" fill="#000" stroke="none" stroke-width="1"/>
<rect x="180.90" y="358.15" width="6.80" height="6.80" fill="#000" stroke="none" stroke-width="1"/>
<rect x="197.40" y="359.21" width="6.80" height="6.80" fill="#000" stroke="none" stroke-width="1"/>
<rect x="214.90" y="379.77" width="6.80" height="6.80" fill="#000" stroke="none" stroke-width="1"/>
<circle cx="63.50" cy="405.60" r="3.6" fill="#000" stroke="#000" stroke-width="1"/>
<rect x="60.30" y="402.40" width="6.40" height="6.40" fill="#fff" stroke="#000" stroke-width="1.1"/>
<rect x="78.00" y="402.40" width="6.40" height="6.40" fill="#fff" stroke="#000" stroke-width="1.1"/>
<rect x="95.40" y="398.93" width="6.40" height="6.40" fill="#fff" stroke="#000" stroke-width="1.1"/>
<rect x="112.20" y="402.40" width="6.40" height="6.40" fill="#fff" stroke="#000" stroke-width="1.1"/>
<rect x="129.40" y="402.93" width="6.40" height="6.40" fill="#fff" stroke="#000" stroke-width="1.1"/>
<rect x="146.60" y="402.93" width="6.40" height="6.40" fill="#fff" stroke="#000" stroke-width="1.1"/>
<rect x="163.70" y="402.40" width="6.40" height="6.40" fill="#fff" stroke="#000" stroke-width="1.1"/>
<rect x="181.10" y="402.40" width="6.40" height="6.40" fill="#fff" stroke="#000" stroke-width="1.1"/>
<rect x="197.60" y="402.40" width="6.40" height="6.40" fill="#fff" stroke="#000" stroke-width="1.1"/>
<rect x="215.10" y="402.40" width="6.40" height="6.40" fill="#fff" stroke="#000" stroke-width="1.1"/>
<circle cx="63.50" cy="405.60" r="3.3" fill="#fff" stroke="#000" stroke-width="1.2"/>
<circle cx="81.20" cy="405.60" r="3.3" fill="#fff" stroke="#000" stroke-width="1.2"/>
<circle cx="98.60" cy="393.05" r="3.3" fill="#fff" stroke="#000" stroke-width="1.2"/>
<circle cx="115.40" cy="405.60" r="3.3" fill="#fff" stroke="#000" stroke-width="1.2"/>
<circle cx="132.60" cy="403.46" r="3.3" fill="#fff" stroke="#000" stroke-width="1.2"/>
<circle cx="149.80" cy="402.66" r="3.3" fill="#fff" stroke="#000" stroke-width="1.2"/>
<circle cx="166.90" cy="405.60" r="3.3" fill="#fff" stroke="#000" stroke-width="1.2"/>
<circle cx="184.30" cy="405.60" r="3.3" fill="#fff" stroke="#000" stroke-width="1.2"/>
<circle cx="200.80" cy="405.60" r="3.3" fill="#fff" stroke="#000" stroke-width="1.2"/>
<circle cx="218.30" cy="405.60" r="3.3" fill="#fff" stroke="#000" stroke-width="1.2"/>
<circle cx="81.20" cy="324.70" r="3.7" fill="#000" stroke="#000" stroke-width="1"/>
<circle cx="98.60" cy="361.81" r="3.7" fill="#000" stroke="#000" stroke-width="1"/>
<line x1="81.20" y1="297.50" x2="81.20" y2="304.50" stroke="#111" stroke-width="1.25" stroke-linecap="round"/>
<line x1="78.17" y1="299.25" x2="84.23" y2="302.75" stroke="#111" stroke-width="1.25" stroke-linecap="round"/>
<line x1="84.23" y1="299.25" x2="78.17" y2="302.75" stroke="#111" stroke-width="1.25" stroke-linecap="round"/>
<line x1="98.60" y1="337.50" x2="98.60" y2="344.50" stroke="#111" stroke-width="1.25" stroke-linecap="round"/>
<line x1="95.57" y1="339.25" x2="101.63" y2="342.75" stroke="#111" stroke-width="1.25" stroke-linecap="round"/>
<line x1="101.63" y1="339.25" x2="95.57" y2="342.75" stroke="#111" stroke-width="1.25" stroke-linecap="round"/>
<line x1="166.90" y1="334.00" x2="166.90" y2="341.00" stroke="#111" stroke-width="1.25" stroke-linecap="round"/>
<line x1="163.87" y1="335.75" x2="169.93" y2="339.25" stroke="#111" stroke-width="1.25" stroke-linecap="round"/>
<line x1="169.93" y1="335.75" x2="163.87" y2="339.25" stroke="#111" stroke-width="1.25" stroke-linecap="round"/>
<line x1="184.30" y1="330.80" x2="184.30" y2="337.80" stroke="#111" stroke-width="1.25" stroke-linecap="round"/>
<line x1="181.27" y1="332.55" x2="187.33" y2="336.05" stroke="#111" stroke-width="1.25" stroke-linecap="round"/>
<line x1="187.33" y1="332.55" x2="181.27" y2="336.05" stroke="#111" stroke-width="1.25" stroke-linecap="round"/>
<line x1="200.80" y1="338.50" x2="200.80" y2="345.50" stroke="#111" stroke-width="1.25" stroke-linecap="round"/>
<line x1="197.77" y1="340.25" x2="203.83" y2="343.75" stroke="#111" stroke-width="1.25" stroke-linecap="round"/>
<line x1="203.83" y1="340.25" x2="197.77" y2="343.75" stroke="#111" stroke-width="1.25" stroke-linecap="round"/>
<line x1="218.30" y1="356.50" x2="218.30" y2="363.50" stroke="#111" stroke-width="1.25" stroke-linecap="round"/>
<line x1="215.27" y1="358.25" x2="221.33" y2="361.75" stroke="#111" stroke-width="1.25" stroke-linecap="round"/>
<line x1="221.33" y1="358.25" x2="215.27" y2="361.75" stroke="#111" stroke-width="1.25" stroke-linecap="round"/>
<text x="85.00" y="313.30" font-size="11.1" font-weight="bold" text-anchor="start" fill="#000" >GVHD + diluent</text>
<text x="171.20" y="329.50" font-size="11.1" font-weight="bold" text-anchor="start" fill="#000" >GVHD + PMB</text>
<text x="71.20" y="385.00" font-size="11.1" font-weight="bold" text-anchor="start" fill="#000" >Control + diluent</text>
<text x="168.60" y="400.50" font-size="11.1" font-weight="bold" text-anchor="start" fill="#000" >Control + PMB</text>
<text x="257.60" y="301.40" font-size="17.5" font-weight="bold" text-anchor="start" fill="#000" >C</text>
<line x1="316.20" y1="310.20" x2="316.20" y2="405.10" stroke="#000" stroke-width="1.1" />
<line x1="315.70" y1="404.60" x2="495.00" y2="404.60" stroke="#000" stroke-width="1.1" />
<text x="302.60" y="408.70" font-size="11.8" font-weight="bold" text-anchor="middle" fill="#000" >0</text>
<line x1="316.20" y1="404.60" x2="318.50" y2="404.60" stroke="#000" stroke-width="1" />
<text x="302.20" y="389.88" font-size="11.8" font-weight="bold" text-anchor="middle" fill="#000" >20</text>
<line x1="316.20" y1="385.78" x2="318.50" y2="385.78" stroke="#000" stroke-width="1" />
<text x="302.20" y="371.06" font-size="11.8" font-weight="bold" text-anchor="middle" fill="#000" >40</text>
<line x1="316.20" y1="366.96" x2="318.50" y2="366.96" stroke="#000" stroke-width="1" />
<text x="302.20" y="352.24" font-size="11.8" font-weight="bold" text-anchor="middle" fill="#000" >60</text>
<line x1="316.20" y1="348.14" x2="318.50" y2="348.14" stroke="#000" stroke-width="1" />
<text x="302.20" y="333.42" font-size="11.8" font-weight="bold" text-anchor="middle" fill="#000" >80</text>
<line x1="316.20" y1="329.32" x2="318.50" y2="329.32" stroke="#000" stroke-width="1" />
<text x="301.10" y="314.60" font-size="11.8" font-weight="bold" text-anchor="middle" fill="#000" >100</text>
<line x1="316.20" y1="310.50" x2="318.50" y2="310.50" stroke="#000" stroke-width="1" />
<line x1="316.20" y1="395.19" x2="317.80" y2="395.19" stroke="#000" stroke-width="0.8" />
<line x1="316.20" y1="376.37" x2="317.80" y2="376.37" stroke="#000" stroke-width="0.8" />
<line x1="316.20" y1="357.55" x2="317.80" y2="357.55" stroke="#000" stroke-width="0.8" />
<line x1="316.20" y1="338.73" x2="317.80" y2="338.73" stroke="#000" stroke-width="0.8" />
<line x1="316.20" y1="319.91" x2="317.80" y2="319.91" stroke="#000" stroke-width="0.8" />
<text x="315.30" y="419.30" font-size="12" font-weight="bold" text-anchor="middle" fill="#000" >0</text>
<line x1="315.30" y1="404.60" x2="315.30" y2="402.50" stroke="#000" stroke-width="1" />
<text x="337.70" y="419.30" font-size="12" font-weight="bold" text-anchor="middle" fill="#000" >10</text>
<line x1="337.70" y1="404.60" x2="337.70" y2="402.50" stroke="#000" stroke-width="1" />
<text x="360.10" y="419.30" font-size="12" font-weight="bold" text-anchor="middle" fill="#000" >20</text>
<line x1="360.10" y1="404.60" x2="360.10" y2="402.50" stroke="#000" stroke-width="1" />
<text x="382.50" y="419.30" font-size="12" font-weight="bold" text-anchor="middle" fill="#000" >30</text>
<line x1="382.50" y1="404.60" x2="382.50" y2="402.50" stroke="#000" stroke-width="1" />
<text x="404.90" y="419.30" font-size="12" font-weight="bold" text-anchor="middle" fill="#000" >40</text>
<line x1="404.90" y1="404.60" x2="404.90" y2="402.50" stroke="#000" stroke-width="1" />
<text x="427.30" y="419.30" font-size="12" font-weight="bold" text-anchor="middle" fill="#000" >50</text>
<line x1="427.30" y1="404.60" x2="427.30" y2="402.50" stroke="#000" stroke-width="1" />
<text x="449.70" y="419.30" font-size="12" font-weight="bold" text-anchor="middle" fill="#000" >60</text>
<line x1="449.70" y1="404.60" x2="449.70" y2="402.50" stroke="#000" stroke-width="1" />
<text x="472.10" y="419.30" font-size="12" font-weight="bold" text-anchor="middle" fill="#000" >70</text>
<line x1="472.10" y1="404.60" x2="472.10" y2="402.50" stroke="#000" stroke-width="1" />
<text x="406.30" y="436.20" font-size="13.1" font-weight="bold" text-anchor="middle" fill="#000" >Days after BMT</text>
<text transform="translate(289.8,355.3) rotate(-90)" font-size="12.8" font-weight="bold" text-anchor="middle">Survival (%)</text>
<line x1="316.20" y1="310.60" x2="485.40" y2="310.60" stroke="#000" stroke-width="1.2" />
<rect x="481.50" y="306.60" width="8.00" height="8.00" fill="#000" stroke="none" stroke-width="1"/>
<circle cx="485.50" cy="310.60" r="3.2" fill="#fff" stroke="none" stroke-width="0"/>
<polyline points="329.50,310.60 329.50,326.50 331.20,326.50 331.20,341.50 336.20,341.50 336.20,388.90 356.10,388.90 356.10,404.80" fill="none" stroke="#000" stroke-width="1.8" stroke-linejoin="round" />
<circle cx="329.50" cy="310.60" r="3.3" fill="#000" stroke="#000" stroke-width="1"/>
<circle cx="328.60" cy="326.50" r="3.3" fill="#000" stroke="#000" stroke-width="1"/>
<circle cx="331.20" cy="326.50" r="3.3" fill="#000" stroke="#000" stroke-width="1"/>
<circle cx="331.00" cy="341.50" r="3.3" fill="#000" stroke="#000" stroke-width="1"/>
<circle cx="336.50" cy="341.50" r="3.3" fill="#000" stroke="#000" stroke-width="1"/>
<circle cx="335.80" cy="388.90" r="3.3" fill="#000" stroke="#000" stroke-width="1"/>
<circle cx="356.10" cy="388.90" r="3.3" fill="#000" stroke="#000" stroke-width="1"/>
<circle cx="356.10" cy="405.00" r="3.3" fill="#000" stroke="#000" stroke-width="1"/>
<polyline points="409.70,310.60 409.70,326.20 445.50,326.20 445.50,341.80 454.20,341.80 454.20,357.80 476.80,357.80 476.80,389.20 485.40,389.20" fill="none" stroke="#000" stroke-width="1.8" stroke-linejoin="round" />
<rect x="312.50" y="306.90" width="7.40" height="7.40" fill="#000" stroke="none" stroke-width="1"/>
<rect x="406.00" y="306.90" width="7.40" height="7.40" fill="#000" stroke="none" stroke-width="1"/>
<rect x="406.00" y="322.50" width="7.40" height="7.40" fill="#000" stroke="none" stroke-width="1"/>
<rect x="441.80" y="322.50" width="7.40" height="7.40" fill="#000" stroke="none" stroke-width="1"/>
<rect x="441.80" y="338.10" width="7.40" height="7.40" fill="#000" stroke="none" stroke-width="1"/>
<rect x="450.50" y="338.10" width="7.40" height="7.40" fill="#000" stroke="none" stroke-width="1"/>
<rect x="450.50" y="354.10" width="7.40" height="7.40" fill="#000" stroke="none" stroke-width="1"/>
<rect x="473.10" y="354.10" width="7.40" height="7.40" fill="#000" stroke="none" stroke-width="1"/>
<rect x="473.10" y="385.50" width="7.40" height="7.40" fill="#000" stroke="none" stroke-width="1"/>
<rect x="481.70" y="385.50" width="7.40" height="7.40" fill="#000" stroke="none" stroke-width="1"/>
<line x1="349.40" y1="378.00" x2="349.40" y2="385.00" stroke="#111" stroke-width="1.25" stroke-linecap="round"/>
<line x1="346.37" y1="379.75" x2="352.43" y2="383.25" stroke="#111" stroke-width="1.25" stroke-linecap="round"/>
<line x1="352.43" y1="379.75" x2="346.37" y2="383.25" stroke="#111" stroke-width="1.25" stroke-linecap="round"/>
<text x="364.20" y="295.00" font-size="11.1" font-weight="bold" text-anchor="start" fill="#000" >Control + diluent</text>
<text x="364.20" y="306.10" font-size="11.1" font-weight="bold" text-anchor="start" fill="#000" >Control + PMB</text>
<text x="403.30" y="373.50" font-size="11.1" font-weight="bold" text-anchor="start" fill="#000" >GVHD + PMB</text>
<text x="361.00" y="400.40" font-size="11.1" font-weight="bold" text-anchor="start" fill="#000" >GVHD + diluent</text>
<text x="2.70" y="461.40" font-size="17.5" font-weight="bold" text-anchor="start" fill="#000" >D</text>
<line x1="62.30" y1="456.00" x2="62.30" y2="566.00" stroke="#000" stroke-width="1.1" />
<line x1="61.80" y1="565.60" x2="233.30" y2="565.60" stroke="#000" stroke-width="1.1" />
<text x="56.80" y="569.30" font-size="10.3" font-weight="bold" text-anchor="end" fill="#000" >0</text>
<line x1="62.30" y1="565.60" x2="64.60" y2="565.60" stroke="#000" stroke-width="1" />
<text x="56.80" y="541.96" font-size="10.3" font-weight="bold" text-anchor="end" fill="#000" >2</text>
<line x1="62.30" y1="538.26" x2="64.60" y2="538.26" stroke="#000" stroke-width="1" />
<text x="56.80" y="514.62" font-size="10.3" font-weight="bold" text-anchor="end" fill="#000" >4</text>
<line x1="62.30" y1="510.92" x2="64.60" y2="510.92" stroke="#000" stroke-width="1" />
<text x="56.80" y="487.28" font-size="10.3" font-weight="bold" text-anchor="end" fill="#000" >6</text>
<line x1="62.30" y1="483.58" x2="64.60" y2="483.58" stroke="#000" stroke-width="1" />
<text x="56.80" y="459.94" font-size="10.3" font-weight="bold" text-anchor="end" fill="#000" >8</text>
<line x1="62.30" y1="456.24" x2="64.60" y2="456.24" stroke="#000" stroke-width="1" />
<line x1="62.30" y1="551.93" x2="64.00" y2="551.93" stroke="#000" stroke-width="0.8" />
<line x1="62.30" y1="524.59" x2="64.00" y2="524.59" stroke="#000" stroke-width="0.8" />
<line x1="62.30" y1="497.25" x2="64.00" y2="497.25" stroke="#000" stroke-width="0.8" />
<line x1="62.30" y1="469.91" x2="64.00" y2="469.91" stroke="#000" stroke-width="0.8" />
<text x="61.40" y="580.20" font-size="11.8" font-weight="bold" text-anchor="middle" fill="#000" >0</text>
<text x="83.70" y="580.20" font-size="11.8" font-weight="bold" text-anchor="middle" fill="#000" >10</text>
<line x1="83.70" y1="565.60" x2="83.70" y2="563.50" stroke="#000" stroke-width="1" />
<text x="106.00" y="580.20" font-size="11.8" font-weight="bold" text-anchor="middle" fill="#000" >20</text>
<line x1="106.00" y1="565.60" x2="106.00" y2="563.50" stroke="#000" stroke-width="1" />
<text x="128.30" y="580.20" font-size="11.8" font-weight="bold" text-anchor="middle" fill="#000" >30</text>
<line x1="128.30" y1="565.60" x2="128.30" y2="563.50" stroke="#000" stroke-width="1" />
<text x="150.60" y="580.20" font-size="11.8" font-weight="bold" text-anchor="middle" fill="#000" >40</text>
<line x1="150.60" y1="565.60" x2="150.60" y2="563.50" stroke="#000" stroke-width="1" />
<text x="172.90" y="580.20" font-size="11.8" font-weight="bold" text-anchor="middle" fill="#000" >50</text>
<line x1="172.90" y1="565.60" x2="172.90" y2="563.50" stroke="#000" stroke-width="1" />
<text x="195.20" y="580.20" font-size="11.8" font-weight="bold" text-anchor="middle" fill="#000" >60</text>
<line x1="195.20" y1="565.60" x2="195.20" y2="563.50" stroke="#000" stroke-width="1" />
<text x="217.50" y="580.20" font-size="11.8" font-weight="bold" text-anchor="middle" fill="#000" >70</text>
<line x1="217.50" y1="565.60" x2="217.50" y2="563.50" stroke="#000" stroke-width="1" />
<text x="148.00" y="593.30" font-size="13.1" font-weight="bold" text-anchor="middle" fill="#000" >Days after BMT</text>
<text transform="translate(40.3,506.8) rotate(-90)" font-size="12.5" font-weight="bold" text-anchor="middle">GVHD scores</text>
<polyline points="63.30,565.50 78.80,526.30 92.30,537.90 107.70,544.70 123.10,535.70 138.70,535.50 154.30,538.30 169.60,556.90 185.00,556.90 200.50,551.40 215.90,552.00 232.00,552.00" fill="none" stroke="#000" stroke-width="1.5" stroke-linejoin="round" />
<polyline points="63.30,565.50 78.80,519.90 92.30,524.20 107.70,536.30 123.10,521.90 138.70,528.70 154.30,533.00 169.60,540.40 185.00,540.00 200.50,546.70 215.90,546.30 232.00,548.40" fill="none" stroke="#000" stroke-width="1.5" stroke-linejoin="round" />
<polyline points="63.30,565.50 78.80,493.50 92.30,510.50 107.70,509.50 123.10,496.90 138.70,498.50 154.30,489.60 169.60,493.80 185.00,493.80 200.50,487.90 215.90,487.10 232.00,496.40" fill="none" stroke="#000" stroke-width="2.0" stroke-linejoin="round" />
<polyline points="63.30,565.50 78.80,484.30 92.30,490.00" fill="none" stroke="#000" stroke-width="2.0" stroke-linejoin="round" />
<line x1="78.80" y1="477.70" x2="78.80" y2="490.00" stroke="#000" stroke-width="1" />
<line x1="77.80" y1="477.70" x2="79.80" y2="477.70" stroke="#000" stroke-width="1" />
<line x1="77.80" y1="490.00" x2="79.80" y2="490.00" stroke="#000" stroke-width="1" />
<line x1="92.30" y1="484.30" x2="92.30" y2="495.40" stroke="#000" stroke-width="1" />
<line x1="91.30" y1="484.30" x2="93.30" y2="484.30" stroke="#000" stroke-width="1" />
<line x1="91.30" y1="495.40" x2="93.30" y2="495.40" stroke="#000" stroke-width="1" />
<line x1="92.30" y1="507.00" x2="92.30" y2="514.60" stroke="#000" stroke-width="1" />
<line x1="91.30" y1="507.00" x2="93.30" y2="507.00" stroke="#000" stroke-width="1" />
<line x1="91.30" y1="514.60" x2="93.30" y2="514.60" stroke="#000" stroke-width="1" />
<line x1="123.10" y1="491.50" x2="123.10" y2="501.80" stroke="#000" stroke-width="1" />
<line x1="122.10" y1="491.50" x2="124.10" y2="491.50" stroke="#000" stroke-width="1" />
<line x1="122.10" y1="501.80" x2="124.10" y2="501.80" stroke="#000" stroke-width="1" />
<line x1="154.30" y1="483.30" x2="154.30" y2="496.00" stroke="#000" stroke-width="1" />
<line x1="153.30" y1="483.30" x2="155.30" y2="483.30" stroke="#000" stroke-width="1" />
<line x1="153.30" y1="496.00" x2="155.30" y2="496.00" stroke="#000" stroke-width="1" />
<line x1="200.50" y1="483.50" x2="200.50" y2="492.00" stroke="#000" stroke-width="1" />
<line x1="199.50" y1="483.50" x2="201.50" y2="483.50" stroke="#000" stroke-width="1" />
<line x1="199.50" y1="492.00" x2="201.50" y2="492.00" stroke="#000" stroke-width="1" />
<line x1="215.90" y1="483.00" x2="215.90" y2="491.00" stroke="#000" stroke-width="1" />
<line x1="214.90" y1="483.00" x2="216.90" y2="483.00" stroke="#000" stroke-width="1" />
<line x1="214.90" y1="491.00" x2="216.90" y2="491.00" stroke="#000" stroke-width="1" />
<line x1="123.10" y1="516.00" x2="123.10" y2="522.00" stroke="#000" stroke-width="1" />
<line x1="122.10" y1="516.00" x2="124.10" y2="516.00" stroke="#000" stroke-width="1" />
<line x1="122.10" y1="522.00" x2="124.10" y2="522.00" stroke="#000" stroke-width="1" />
<line x1="138.70" y1="520.30" x2="138.70" y2="528.00" stroke="#000" stroke-width="1" />
<line x1="137.70" y1="520.30" x2="139.70" y2="520.30" stroke="#000" stroke-width="1" />
<line x1="137.70" y1="528.00" x2="139.70" y2="528.00" stroke="#000" stroke-width="1" />
<line x1="154.30" y1="525.20" x2="154.30" y2="533.00" stroke="#000" stroke-width="1" />
<line x1="153.30" y1="525.20" x2="155.30" y2="525.20" stroke="#000" stroke-width="1" />
<line x1="153.30" y1="533.00" x2="155.30" y2="533.00" stroke="#000" stroke-width="1" />
<circle cx="78.80" cy="526.30" r="3.2" fill="#fff" stroke="#000" stroke-width="1.1"/>
<circle cx="92.30" cy="537.90" r="3.2" fill="#fff" stroke="#000" stroke-width="1.1"/>
<circle cx="107.70" cy="544.70" r="3.2" fill="#fff" stroke="#000" stroke-width="1.1"/>
<circle cx="123.10" cy="535.70" r="3.2" fill="#fff" stroke="#000" stroke-width="1.1"/>
<circle cx="138.70" cy="535.50" r="3.2" fill="#fff" stroke="#000" stroke-width="1.1"/>
<circle cx="154.30" cy="538.30" r="3.2" fill="#fff" stroke="#000" stroke-width="1.1"/>
<circle cx="169.60" cy="556.90" r="3.2" fill="#fff" stroke="#000" stroke-width="1.1"/>
<circle cx="185.00" cy="556.90" r="3.2" fill="#fff" stroke="#000" stroke-width="1.1"/>
<circle cx="200.50" cy="551.40" r="3.2" fill="#fff" stroke="#000" stroke-width="1.1"/>
<circle cx="215.90" cy="552.00" r="3.2" fill="#fff" stroke="#000" stroke-width="1.1"/>
<circle cx="232.00" cy="552.00" r="3.2" fill="#fff" stroke="#000" stroke-width="1.1"/>
<rect x="75.50" y="516.60" width="6.60" height="6.60" fill="#fff" stroke="#000" stroke-width="1.1"/>
<rect x="89.00" y="520.90" width="6.60" height="6.60" fill="#fff" stroke="#000" stroke-width="1.1"/>
<rect x="104.40" y="533.00" width="6.60" height="6.60" fill="#fff" stroke="#000" stroke-width="1.1"/>
<rect x="119.80" y="518.60" width="6.60" height="6.60" fill="#fff" stroke="#000" stroke-width="1.1"/>
<rect x="135.40" y="525.40" width="6.60" height="6.60" fill="#fff" stroke="#000" stroke-width="1.1"/>
<rect x="151.00" y="529.70" width="6.60" height="6.60" fill="#fff" stroke="#000" stroke-width="1.1"/>
<rect x="166.30" y="537.10" width="6.60" height="6.60" fill="#fff" stroke="#000" stroke-width="1.1"/>
<rect x="181.70" y="536.70" width="6.60" height="6.60" fill="#fff" stroke="#000" stroke-width="1.1"/>
<rect x="197.20" y="543.40" width="6.60" height="6.60" fill="#fff" stroke="#000" stroke-width="1.1"/>
<rect x="212.60" y="543.00" width="6.60" height="6.60" fill="#fff" stroke="#000" stroke-width="1.1"/>
<rect x="228.70" y="545.10" width="6.60" height="6.60" fill="#fff" stroke="#000" stroke-width="1.1"/>
<rect x="59.80" y="562.00" width="7.00" height="7.00" fill="#000" stroke="none" stroke-width="1"/>
<rect x="75.30" y="490.00" width="7.00" height="7.00" fill="#000" stroke="none" stroke-width="1"/>
<rect x="88.80" y="507.00" width="7.00" height="7.00" fill="#000" stroke="none" stroke-width="1"/>
<rect x="104.20" y="506.00" width="7.00" height="7.00" fill="#000" stroke="none" stroke-width="1"/>
<rect x="119.60" y="493.40" width="7.00" height="7.00" fill="#000" stroke="none" stroke-width="1"/>
<rect x="135.20" y="495.00" width="7.00" height="7.00" fill="#000" stroke="none" stroke-width="1"/>
<rect x="150.80" y="486.10" width="7.00" height="7.00" fill="#000" stroke="none" stroke-width="1"/>
<rect x="166.10" y="490.30" width="7.00" height="7.00" fill="#000" stroke="none" stroke-width="1"/>
<rect x="181.50" y="490.30" width="7.00" height="7.00" fill="#000" stroke="none" stroke-width="1"/>
<rect x="197.00" y="484.40" width="7.00" height="7.00" fill="#000" stroke="none" stroke-width="1"/>
<rect x="212.40" y="483.60" width="7.00" height="7.00" fill="#000" stroke="none" stroke-width="1"/>
<rect x="228.50" y="492.90" width="7.00" height="7.00" fill="#000" stroke="none" stroke-width="1"/>
<circle cx="78.80" cy="484.30" r="3.2" fill="#000" stroke="#000" stroke-width="1"/>
<circle cx="92.30" cy="490.00" r="3.2" fill="#000" stroke="#000" stroke-width="1"/>
<line x1="78.80" y1="469.05" x2="78.80" y2="475.55" stroke="#111" stroke-width="1.25" stroke-linecap="round"/>
<line x1="75.99" y1="470.68" x2="81.61" y2="473.93" stroke="#111" stroke-width="1.25" stroke-linecap="round"/>
<line x1="81.61" y1="470.68" x2="75.99" y2="473.93" stroke="#111" stroke-width="1.25" stroke-linecap="round"/>
<line x1="92.30" y1="475.95" x2="92.30" y2="482.45" stroke="#111" stroke-width="1.25" stroke-linecap="round"/>
<line x1="89.49" y1="477.57" x2="95.11" y2="480.82" stroke="#111" stroke-width="1.25" stroke-linecap="round"/>
<line x1="95.11" y1="477.57" x2="89.49" y2="480.82" stroke="#111" stroke-width="1.25" stroke-linecap="round"/>
<text x="66.30" y="464.80" font-size="11.1" font-weight="bold" text-anchor="start" fill="#000" >GVHD + diluent</text>
<text x="163.40" y="480.50" font-size="11.1" font-weight="bold" text-anchor="start" fill="#000" >GVHD + PMB</text>
<text x="158.60" y="529.80" font-size="11.1" font-weight="bold" text-anchor="start" fill="#000" >Control + PMB</text>
<text x="73.20" y="557.10" font-size="11.1" font-weight="bold" text-anchor="start" fill="#000" >Control + diluent</text>
<text x="257.70" y="461.60" font-size="17.5" font-weight="bold" text-anchor="start" fill="#000" >E</text>
<line x1="312.00" y1="482.50" x2="312.00" y2="573.00" stroke="#000" stroke-width="1.1" />
<line x1="311.50" y1="572.60" x2="438.00" y2="572.60" stroke="#000" stroke-width="1.1" />
<text x="309.90" y="576.80" font-size="11.5" font-weight="bold" text-anchor="end" fill="#000" >0</text>
<line x1="312.00" y1="572.60" x2="314.00" y2="572.60" stroke="#000" stroke-width="0.9" />
<text x="309.90" y="561.87" font-size="11.5" font-weight="bold" text-anchor="end" fill="#000" >1</text>
<line x1="312.00" y1="557.67" x2="314.00" y2="557.67" stroke="#000" stroke-width="0.9" />
<text x="309.90" y="546.94" font-size="11.5" font-weight="bold" text-anchor="end" fill="#000" >2</text>
<line x1="312.00" y1="542.74" x2="314.00" y2="542.74" stroke="#000" stroke-width="0.9" />
<text x="309.90" y="532.01" font-size="11.5" font-weight="bold" text-anchor="end" fill="#000" >3</text>
<line x1="312.00" y1="527.81" x2="314.00" y2="527.81" stroke="#000" stroke-width="0.9" />
<text x="309.90" y="517.08" font-size="11.5" font-weight="bold" text-anchor="end" fill="#000" >4</text>
<line x1="312.00" y1="512.88" x2="314.00" y2="512.88" stroke="#000" stroke-width="0.9" />
<text x="309.90" y="502.15" font-size="11.5" font-weight="bold" text-anchor="end" fill="#000" >5</text>
<line x1="312.00" y1="497.95" x2="314.00" y2="497.95" stroke="#000" stroke-width="0.9" />
<text x="309.90" y="487.22" font-size="11.5" font-weight="bold" text-anchor="end" fill="#000" >6</text>
<line x1="312.00" y1="483.02" x2="314.00" y2="483.02" stroke="#000" stroke-width="0.9" />
<line x1="328.35" y1="569.50" x2="328.35" y2="570.50" stroke="#000" stroke-width="1.1" />
<line x1="326.65" y1="569.50" x2="330.05" y2="569.50" stroke="#000" stroke-width="1.3" />
<rect x="320.40" y="570.50" width="15.90" height="2.10" fill="#888" stroke="#000" stroke-width="1.4"/>
<line x1="346.00" y1="494.50" x2="346.00" y2="508.00" stroke="#000" stroke-width="1.1" />
<line x1="344.30" y1="494.50" x2="347.70" y2="494.50" stroke="#000" stroke-width="1.3" />
<rect x="337.70" y="508.00" width="16.60" height="64.60" fill="#fff" stroke="#000" stroke-width="1.4"/>
<line x1="363.60" y1="525.50" x2="363.60" y2="533.80" stroke="#000" stroke-width="1.1" />
<line x1="361.90" y1="525.50" x2="365.30" y2="525.50" stroke="#000" stroke-width="1.3" />
<rect x="355.70" y="533.80" width="15.80" height="38.80" fill="#000" stroke="#000" stroke-width="1.4"/>
<rect x="384.20" y="571.60" width="10.90" height="1.00" fill="#888" stroke="#000" stroke-width="1.4"/>
<line x1="411.75" y1="496.50" x2="411.75" y2="506.00" stroke="#000" stroke-width="1.1" />
<line x1="410.05" y1="496.50" x2="413.45" y2="496.50" stroke="#000" stroke-width="1.3" />
<rect x="403.90" y="506.00" width="15.70" height="66.60" fill="#fff" stroke="#000" stroke-width="1.4"/>
<line x1="428.90" y1="528.30" x2="428.90" y2="534.20" stroke="#000" stroke-width="1.1" />
<line x1="427.20" y1="528.30" x2="430.60" y2="528.30" stroke="#000" stroke-width="1.3" />
<rect x="420.60" y="534.20" width="16.60" height="38.40" fill="#000" stroke="#000" stroke-width="1.4"/>
<line x1="363.70" y1="516.00" x2="363.70" y2="523.00" stroke="#111" stroke-width="1.25" stroke-linecap="round"/>
<line x1="360.67" y1="517.75" x2="366.73" y2="521.25" stroke="#111" stroke-width="1.25" stroke-linecap="round"/>
<line x1="366.73" y1="517.75" x2="360.67" y2="521.25" stroke="#111" stroke-width="1.25" stroke-linecap="round"/>
<line x1="429.00" y1="517.30" x2="429.00" y2="524.30" stroke="#111" stroke-width="1.25" stroke-linecap="round"/>
<line x1="425.97" y1="519.05" x2="432.03" y2="522.55" stroke="#111" stroke-width="1.25" stroke-linecap="round"/>
<line x1="432.03" y1="519.05" x2="425.97" y2="522.55" stroke="#111" stroke-width="1.25" stroke-linecap="round"/>
<text x="347.10" y="585.30" font-size="12" font-weight="bold" text-anchor="middle" fill="#000" >CD4</text>
<text x="413.70" y="586.00" font-size="12.2" font-weight="bold" text-anchor="middle" fill="#000" >CD8</text>
<text transform="translate(294.2,517.2) rotate(-90)" font-size="12.3" font-weight="bold" text-anchor="middle">Donor T cells (×10<tspan dy="-5.2" font-size="9.5">5</tspan><tspan dy="5.2"> )</tspan></text>
<rect x="417.70" y="452.10" width="9.80" height="9.40" fill="#888" stroke="#000" stroke-width="1"/>
<text x="429.00" y="460.70" font-size="11.0" font-weight="bold" text-anchor="start" fill="#000" >Control + diluent</text>
<rect x="417.70" y="468.30" width="9.80" height="8.90" fill="#fff" stroke="#000" stroke-width="1"/>
<text x="429.00" y="476.30" font-size="11.0" font-weight="bold" text-anchor="start" fill="#000" >GVHD + diluent</text>
<rect x="417.70" y="483.10" width="9.80" height="9.40" fill="#000" stroke="#000" stroke-width="1"/>
<text x="429.00" y="491.20" font-size="11.0" font-weight="bold" text-anchor="start" fill="#000" >GVHD + PMB</text>
<text x="2.70" y="608.70" font-size="17.5" font-weight="bold" text-anchor="start" fill="#000" >F</text>
<line x1="77.50" y1="631.00" x2="77.50" y2="721.80" stroke="#000" stroke-width="1.1" />
<line x1="77.00" y1="721.30" x2="166.20" y2="721.30" stroke="#000" stroke-width="1.1" />
<text x="74.90" y="725.10" font-size="10.6" font-weight="bold" text-anchor="end" fill="#000" >0</text>
<line x1="77.50" y1="721.30" x2="79.50" y2="721.30" stroke="#000" stroke-width="0.9" />
<text x="74.90" y="713.00" font-size="10.6" font-weight="bold" text-anchor="end" fill="#000" >2</text>
<line x1="77.50" y1="709.20" x2="79.50" y2="709.20" stroke="#000" stroke-width="0.9" />
<text x="74.90" y="700.90" font-size="10.6" font-weight="bold" text-anchor="end" fill="#000" >4</text>
<line x1="77.50" y1="697.10" x2="79.50" y2="697.10" stroke="#000" stroke-width="0.9" />
<text x="74.90" y="688.80" font-size="10.6" font-weight="bold" text-anchor="end" fill="#000" >6</text>
<line x1="77.50" y1="685.00" x2="79.50" y2="685.00" stroke="#000" stroke-width="0.9" />
<text x="74.90" y="676.70" font-size="10.6" font-weight="bold" text-anchor="end" fill="#000" >8</text>
<line x1="77.50" y1="672.90" x2="79.50" y2="672.90" stroke="#000" stroke-width="0.9" />
<text x="74.90" y="664.60" font-size="10.6" font-weight="bold" text-anchor="end" fill="#000" >10</text>
<line x1="77.50" y1="660.80" x2="79.50" y2="660.80" stroke="#000" stroke-width="0.9" />
<text x="74.90" y="652.50" font-size="10.6" font-weight="bold" text-anchor="end" fill="#000" >12</text>
<line x1="77.50" y1="648.70" x2="79.50" y2="648.70" stroke="#000" stroke-width="0.9" />
<text x="74.90" y="640.40" font-size="10.6" font-weight="bold" text-anchor="end" fill="#000" >14</text>
<line x1="77.50" y1="636.60" x2="79.50" y2="636.60" stroke="#000" stroke-width="0.9" />
<line x1="92.15" y1="695.30" x2="92.15" y2="697.50" stroke="#000" stroke-width="1.1" />
<line x1="90.45" y1="695.30" x2="93.85" y2="695.30" stroke="#000" stroke-width="1.3" />
<rect x="84.00" y="697.50" width="16.30" height="23.80" fill="#999" stroke="#000" stroke-width="1.4"/>
<line x1="121.30" y1="635.20" x2="121.30" y2="638.60" stroke="#000" stroke-width="1.1" />
<line x1="119.60" y1="635.20" x2="123.00" y2="635.20" stroke="#000" stroke-width="1.3" />
<rect x="112.60" y="638.60" width="17.40" height="82.70" fill="#fff" stroke="#000" stroke-width="1.4"/>
<line x1="151.40" y1="660.80" x2="151.40" y2="663.00" stroke="#000" stroke-width="1.1" />
<line x1="149.70" y1="660.80" x2="153.10" y2="660.80" stroke="#000" stroke-width="1.3" />
<rect x="142.40" y="663.00" width="18.00" height="58.30" fill="#000" stroke="#000" stroke-width="1.4"/>
<line x1="151.60" y1="649.70" x2="151.60" y2="656.70" stroke="#111" stroke-width="1.25" stroke-linecap="round"/>
<line x1="148.57" y1="651.45" x2="154.63" y2="654.95" stroke="#111" stroke-width="1.25" stroke-linecap="round"/>
<line x1="154.63" y1="651.45" x2="148.57" y2="654.95" stroke="#111" stroke-width="1.25" stroke-linecap="round"/>
<text transform="translate(39.0,665.5) rotate(-90)" font-size="13.7" font-weight="bold" text-anchor="middle">Pathology scores</text>
<text transform="translate(56.0,667.2) rotate(-90)" font-size="13.5" font-weight="bold" text-anchor="middle">small intestine</text>
<rect x="166.60" y="613.70" width="9.00" height="9.20" fill="#888" stroke="#000" stroke-width="1"/>
<text x="177.00" y="622.30" font-size="11.0" font-weight="bold" text-anchor="start" fill="#000" >Control + diluent</text>
<rect x="166.60" y="630.00" width="9.00" height="9.20" fill="#fff" stroke="#000" stroke-width="1"/>
<text x="177.00" y="638.50" font-size="11.0" font-weight="bold" text-anchor="start" fill="#000" >GVHD + diluent</text>
<rect x="166.60" y="646.30" width="9.00" height="8.30" fill="#000" stroke="#000" stroke-width="1"/>
<text x="177.00" y="654.00" font-size="11.0" font-weight="bold" text-anchor="start" fill="#000" >GVHD + PMB</text>
</svg>
</body></html>
